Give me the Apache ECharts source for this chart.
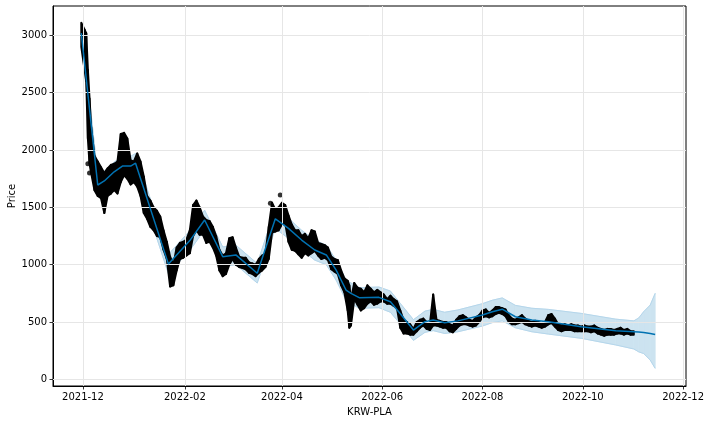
<!DOCTYPE html>
<html>
<head>
<meta charset="utf-8">
<script src="https://cdn.jsdelivr.net/npm/echarts@6.0.0/dist/echarts.min.js"></script>
<style>
html,body{margin:0;padding:0;background:#fff;}
#chart{width:712px;height:424px;}
</style>
</head>
<body>
<div id="chart"></div>
<script>
// ---- observed prices (daily high/low envelope of the black dots) ----
const obsDates = [
'2021-11-30','2021-12-02','2021-12-03','2021-12-04','2021-12-05','2021-12-06','2021-12-08','2021-12-10','2021-12-12','2021-12-14','2021-12-16','2021-12-18','2021-12-20','2021-12-22','2021-12-24','2021-12-26','2021-12-28','2021-12-30',
'2022-01-01','2022-01-03','2022-01-05','2022-01-07','2022-01-09','2022-01-11','2022-01-13','2022-01-15','2022-01-17','2022-01-19','2022-01-21','2022-01-23','2022-01-25','2022-01-27','2022-01-29','2022-01-31',
'2022-02-02','2022-02-04','2022-02-06','2022-02-08','2022-02-10','2022-02-12','2022-02-14','2022-02-16','2022-02-18','2022-02-20','2022-02-22','2022-02-24','2022-02-26','2022-02-28',
'2022-03-02','2022-03-04','2022-03-06','2022-03-08','2022-03-10','2022-03-12','2022-03-14','2022-03-16','2022-03-18','2022-03-20','2022-03-22','2022-03-24','2022-03-26','2022-03-28','2022-03-30',
'2022-04-01','2022-04-03','2022-04-05','2022-04-07','2022-04-09','2022-04-11','2022-04-13','2022-04-15','2022-04-17','2022-04-19','2022-04-21','2022-04-23','2022-04-25','2022-04-27','2022-04-29',
'2022-05-01','2022-05-03','2022-05-05','2022-05-07','2022-05-09','2022-05-11','2022-05-12','2022-05-13','2022-05-15','2022-05-17','2022-05-19','2022-05-21','2022-05-23','2022-05-25','2022-05-27','2022-05-29','2022-05-31',
'2022-06-02','2022-06-04','2022-06-06','2022-06-08','2022-06-10','2022-06-12','2022-06-14','2022-06-16','2022-06-18','2022-06-20','2022-06-22','2022-06-24','2022-06-26','2022-06-28','2022-06-30',
'2022-07-02','2022-07-04','2022-07-06','2022-07-08','2022-07-10','2022-07-12','2022-07-14','2022-07-16','2022-07-18','2022-07-20','2022-07-22','2022-07-24','2022-07-26','2022-07-28','2022-07-30',
'2022-08-01','2022-08-03','2022-08-05','2022-08-07','2022-08-09','2022-08-11','2022-08-13','2022-08-15','2022-08-17','2022-08-19','2022-08-21','2022-08-23','2022-08-25','2022-08-27','2022-08-29','2022-08-31',
'2022-09-02','2022-09-04','2022-09-06','2022-09-08','2022-09-10','2022-09-12','2022-09-14','2022-09-16','2022-09-18','2022-09-20','2022-09-22','2022-09-24','2022-09-26','2022-09-28','2022-09-30',
'2022-10-02','2022-10-04','2022-10-06','2022-10-08','2022-10-10','2022-10-12','2022-10-14','2022-10-16','2022-10-18','2022-10-20','2022-10-22','2022-10-24','2022-10-26','2022-10-28','2022-10-30','2022-11-01'
];
const obsHigh = [
3110,3050,3020,2700,2450,2200,1950,1900,1850,1800,1840,1870,1880,1900,2140,2150,2100,1910,
1900,1970,1900,1770,1600,1560,1500,1470,1420,1300,1200,1070,1000,1150,1190,1200,
1220,1300,1520,1560,1500,1420,1390,1380,1330,1250,1130,1080,1100,1230,
1240,1150,1070,1060,1060,1020,1010,1000,1050,1080,1100,1330,1540,1480,1500,
1540,1520,1430,1350,1300,1300,1250,1270,1230,1300,1290,1190,1180,1170,1150,
1070,1050,1040,950,880,860,820,700,840,800,790,760,820,790,760,780,760,
740,700,730,700,680,600,520,500,480,440,500,520,530,500,480,
740,520,510,500,500,480,470,520,550,560,540,520,510,540,560,
600,610,580,600,630,630,620,610,560,530,520,540,560,530,510,500,
510,500,490,500,560,570,530,480,470,480,470,480,470,470,460,
470,460,460,470,450,440,430,440,440,430,440,450,430,440,420,420
];
const obsLow = [
2900,2700,2600,2100,1880,1800,1650,1600,1580,1450,1600,1620,1650,1620,1720,1780,1750,1700,
1720,1680,1600,1450,1400,1330,1300,1250,1240,1130,1050,810,820,950,1050,1060,
1080,1100,1250,1300,1260,1260,1190,1200,1150,1080,950,900,920,1000,
1050,1000,980,970,960,930,920,900,930,950,980,1050,1280,1290,1300,
1350,1360,1200,1130,1120,1090,1060,1100,1080,1100,1120,1080,1050,1060,1040,
960,940,920,820,760,600,450,470,700,650,600,620,660,680,650,660,680,
680,660,660,640,620,450,400,400,390,390,420,450,470,440,430,
470,470,460,450,450,420,410,440,470,480,480,470,460,470,500,
540,550,540,550,570,580,570,550,500,480,480,490,500,480,470,460,
470,460,450,460,480,490,460,430,420,430,430,430,420,420,420,
420,420,410,420,400,390,380,390,390,390,400,400,390,400,390,390
];
// isolated dots outside the envelope
const outlierDates = ['2021-12-04','2021-12-05','2022-03-25','2022-03-31'];
const outlierValues = [1880,1800,1535,1608];

// ---- Prophet forecast ----
const fcstDates = ['2021-11-30','2021-12-10','2021-12-14','2021-12-20','2021-12-25','2021-12-30','2022-01-02','2022-01-22','2022-02-04','2022-02-13','2022-02-24','2022-03-04','2022-03-17','2022-03-28','2022-04-05','2022-04-13','2022-04-21','2022-04-28','2022-05-04','2022-05-10','2022-05-13','2022-05-18','2022-05-30','2022-06-06','2022-06-11','2022-06-20','2022-06-27','2022-07-02','2022-07-09','2022-07-17','2022-08-01','2022-08-07','2022-08-13','2022-08-21','2022-08-31','2022-09-10','2022-09-30','2022-10-21','2022-11-01','2022-11-04','2022-11-07','2022-11-11','2022-11-14'];
const yhat =      [3020,1695,1730,1810,1860,1860,1885,1005,1210,1390,1070,1085, 925,1400,1317,1215,1128,1085, 953, 779, 750, 712, 715, 677, 590, 430, 503, 517, 494, 510, 561, 590, 612, 546, 517, 502, 459, 424, 415, 412, 408, 400, 392];
const yhatLower = [2935,1610,1645,1725,1775,1775,1800, 920,1125,1305, 985,1000, 840,1315,1230,1130,1040,1000, 865, 690, 660, 620, 625, 585, 500, 340, 410, 425, 400, 415, 465, 495, 510, 450, 415, 395, 358, 300, 265, 240, 225, 168,  96];
const yhatUpper = [3105,1780,1815,1895,1945,1945,1970,1090,1295,1475,1155,1170,1010,1485,1405,1300,1215,1170,1040, 865, 840, 800, 805, 770, 680, 520, 595, 610, 585, 605, 660, 690, 710, 645, 620, 610, 575, 525, 510, 535, 590, 648, 750];

// ---- axes ----
const xMin = '2021-11-12 19:00';
const xMax = '2022-12-02 18:00';
const xTickDates = ['2021-12-01','2022-02-01','2022-04-01','2022-06-01','2022-08-01','2022-10-01','2022-12-01'];
const xTickLabels = ['2021-12','2022-02','2022-04','2022-06','2022-08','2022-10','2022-12'];
const yTicks = [0,500,1000,1500,2000,2500,3000];

const parse = s => echarts.time.parse(s).getTime();
const xTickTimes = xTickDates.map(parse);
const zip = (xs, ys) => xs.map((x, i) => [parse(x), ys[i]]);
const zip3 = (xs, a, b) => xs.map((x, i) => [parse(x), a[i], b[i]]);

const obsData = zip3(obsDates, obsLow, obsHigh);
const bandData = zip3(fcstDates, yhatLower, yhatUpper);

// polygon strip between a low and a high curve, one quad per interval
function makeRenderer(data, fill, stroke, w) {
  return function (params, api) {
    const i = params.dataIndex;
    if (i >= data.length - 1) return null;
    const a = data[i], b = data[i + 1];
    const pts = [
      api.coord([a[0], a[1]]), api.coord([a[0], a[2]]),
      api.coord([b[0], b[2]]), api.coord([b[0], b[1]])
    ];
    return {
      type: 'polygon',
      shape: {points: pts},
      style: {fill: fill, stroke: stroke, lineWidth: w, lineJoin: 'round'}
    };
  };
}

const font = 'DejaVu Sans';
const chart = echarts.init(document.getElementById('chart'), null, {renderer: 'canvas'});
chart.setOption({
  animation: false,
  backgroundColor: '#fff',
  grid: {left: 53, right: 26, top: 6, bottom: 38, containLabel: false, outerBoundsMode: 'none',
         show: true, borderColor: '#000', borderWidth: 1, backgroundColor: '#fff'},
  xAxis: {
    type: 'value',
    min: parse(xMin),
    max: parse(xMax),
    name: 'KRW-PLA', nameLocation: 'middle', nameGap: 21, nameMoveOverlap: false,
    nameTextStyle: {fontFamily: font, fontSize: 10, color: '#000'},
    axisLine: {show: true, onZero: false, lineStyle: {color: '#000', width: 1}},
    axisTick: {show: true, length: 3.5, customValues: xTickTimes, lineStyle: {color: '#000', width: 0.8}},
    axisLabel: {
      customValues: xTickTimes, margin: 6, fontFamily: font, fontSize: 10, color: '#000',
      formatter: v => { const i = xTickTimes.indexOf(v); return i >= 0 ? xTickLabels[i] : ''; }
    },
    splitLine: {show: false}
  },
  yAxis: {
    type: 'value',
    min: -58, max: 3256,
    name: 'Price', nameLocation: 'middle', nameGap: 36, nameRotate: 90, nameMoveOverlap: false,
    nameTextStyle: {fontFamily: font, fontSize: 10, color: '#000'},
    axisLine: {show: true, onZero: false, lineStyle: {color: '#000', width: 1}},
    axisTick: {show: true, length: 3.5, customValues: yTicks, lineStyle: {color: '#000', width: 0.8}},
    axisLabel: {customValues: yTicks, margin: 6, fontFamily: font, fontSize: 10, color: '#000',
                formatter: v => String(v)},
    splitLine: {show: false}
  },
  series: [
    {
      name: 'grid', type: 'line', data: [], z: 0,
      markLine: {
        silent: true, symbol: 'none', label: {show: false}, animation: false,
        lineStyle: {color: '#e6e6e6', width: 1, type: 'solid'},
        data: xTickTimes.map(t => ({xAxis: t})).concat(yTicks.map(v => ({yAxis: v})))
      }
    },
    {
      name: 'uncertainty', type: 'custom', z: 1, clip: true,
      encode: {x: 0, y: [1, 2]},
      data: bandData,
      renderItem: makeRenderer(bandData, '#cce3f0', '#cce3f0', 0.8)
    },
    {
      name: 'yhatLower', type: 'line', symbol: 'none', z: 2,
      data: zip(fcstDates, yhatLower),
      lineStyle: {color: '#b5d6eb', width: 1}
    },
    {
      name: 'yhatUpper', type: 'line', symbol: 'none', z: 2,
      data: zip(fcstDates, yhatUpper),
      lineStyle: {color: '#b5d6eb', width: 1}
    },
    {
      name: 'observed', type: 'custom', z: 3, clip: true,
      encode: {x: 0, y: [1, 2]},
      data: obsData,
      renderItem: makeRenderer(obsData, '#000', '#000', 2)
    },
    {
      name: 'outliers', type: 'scatter', symbolSize: 5, z: 4,
      itemStyle: {color: '#000'},
      data: zip(outlierDates, outlierValues)
    },
    {
      name: 'yhat', type: 'line', symbol: 'none', z: 5,
      data: zip(fcstDates, yhat),
      lineStyle: {color: '#0072B2', width: 1.5}
    }
  ]
});
</script>
</body>
</html>
